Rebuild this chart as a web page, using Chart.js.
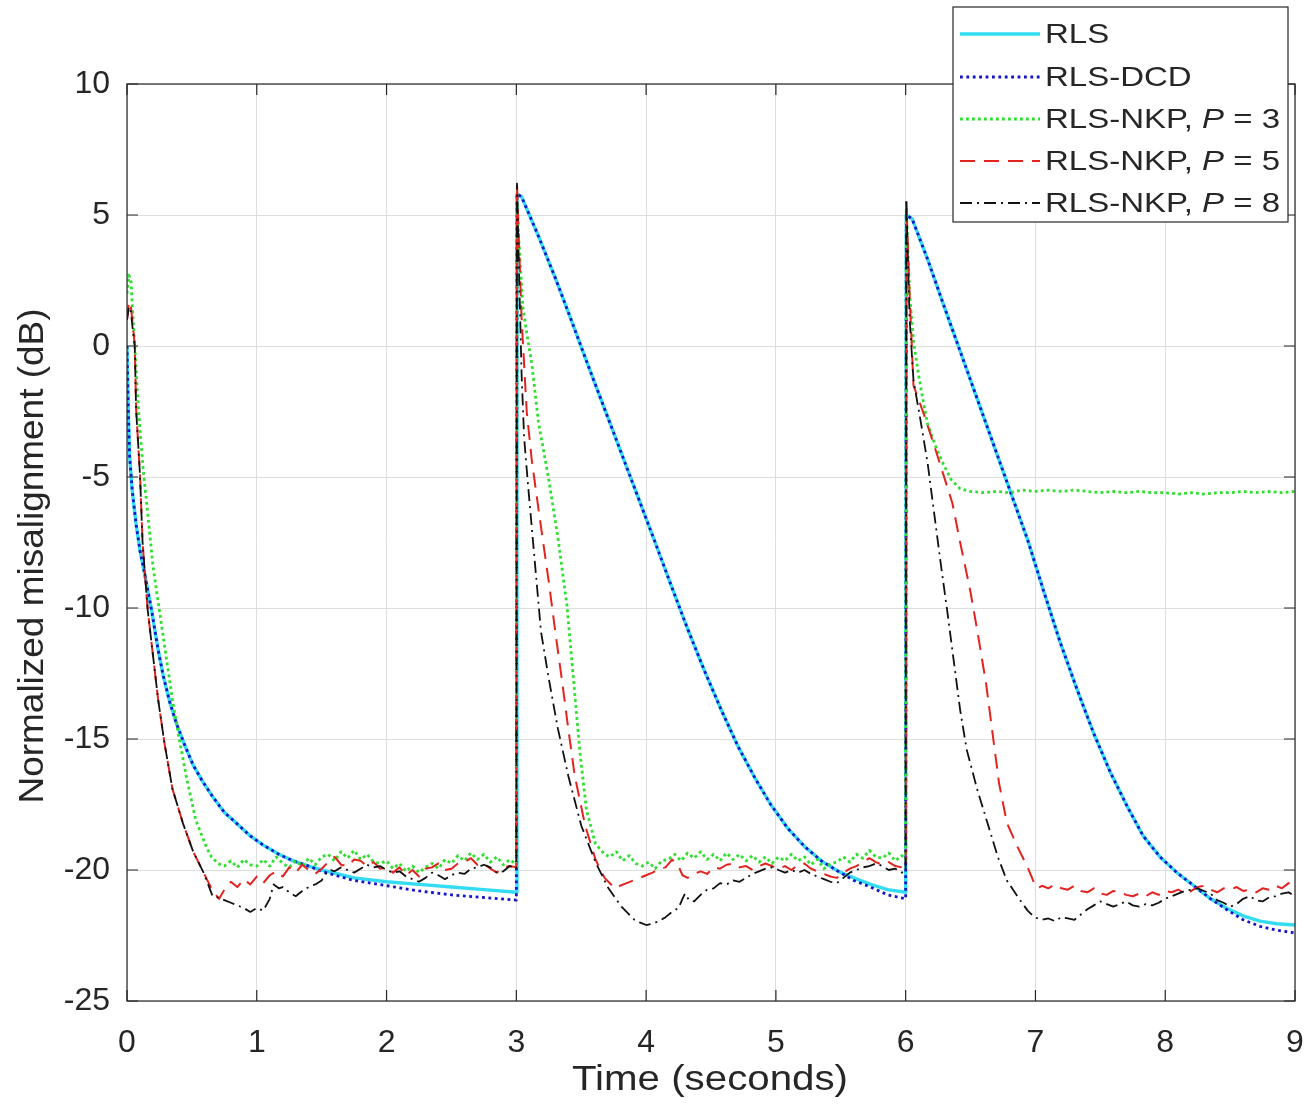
<!DOCTYPE html>
<html><head><meta charset="utf-8">
<script src="https://cdn.jsdelivr.net/npm/chart.js@4.4.1/dist/chart.umd.min.js"></script>
<style>html,body{margin:0;padding:0;background:#fff;}canvas{display:block;}</style>
</head><body>
<canvas id="c" width="1312" height="1116"></canvas>
<script>
// ---------- data ----------
const xTickValues = [0,1,2,3,4,5,6,7,8,9];
const yTickValues = [-25,-20,-15,-10,-5,0,5,10];
const xTitle = 'Time (seconds)';
const yTitle = 'Normalized misalignment (dB)';
const seriesNames = ['RLS','RLS-DCD','RLS-NKP','RLS-NKP','RLS-NKP'];
const seriesP = [null,null,3,5,8];

const rlsT = [0,0.01,0.02,0.04,0.07,0.1,0.14,0.19,0.24,0.28,0.33,0.38,0.45,0.51,0.58,0.66,0.75,0.84,0.95,1.05,1.17,1.28,1.4,1.5,1.75,2,2.25,2.5,2.75,3,
3.005,3.04,3.17,3.3,3.43,3.55,3.68,3.81,3.94,4.07,4.19,4.32,4.45,4.58,4.71,4.84,4.96,5.09,5.22,5.35,5.48,5.6,5.73,5.86,6,
6.005,6.05,6.17,6.29,6.42,6.55,6.68,6.81,6.94,7.06,7.19,7.32,7.45,7.58,7.71,7.83,7.96,8.09,8.22,8.35,8.47,8.6,8.73,8.86,9];
const rlsV = [0,-2.5,-4.2,-5.5,-6.8,-7.8,-8.8,-10.1,-11.6,-12.6,-13.6,-14.4,-15.3,-16,-16.6,-17.2,-17.8,-18.2,-18.7,-19.05,-19.4,-19.65,-19.85,-20,-20.3,-20.45,-20.55,-20.65,-20.75,-20.85,
5.8,5.7,4.2,2.6,0.9,-0.7,-2.4,-4.1,-5.8,-7.5,-9.1,-10.8,-12.4,-13.9,-15.3,-16.5,-17.5,-18.4,-19.1,-19.65,-20.05,-20.3,-20.55,-20.75,-20.85,
5,4.85,3.3,1.6,-0.2,-2,-3.8,-5.6,-7.4,-9.3,-11.3,-13.1,-14.8,-16.3,-17.6,-18.7,-19.5,-20.1,-20.6,-21.1,-21.45,-21.75,-21.95,-22.05,-22.1];
const dcdT = rlsT;
const dcdV = [0,-2.5,-4.2,-5.5,-6.8,-7.8,-8.8,-10.1,-11.6,-12.6,-13.6,-14.4,-15.3,-16,-16.6,-17.2,-17.8,-18.2,-18.7,-19.05,-19.4,-19.65,-19.85,-20.05,-20.4,-20.6,-20.8,-20.95,-21.05,-21.15,
5.8,5.7,4.2,2.6,0.9,-0.7,-2.4,-4.1,-5.8,-7.5,-9.1,-10.8,-12.4,-13.9,-15.3,-16.5,-17.5,-18.4,-19.1,-19.65,-20.05,-20.4,-20.65,-20.95,-21.1,
5,4.85,3.3,1.6,-0.2,-2,-3.8,-5.6,-7.4,-9.3,-11.3,-13.1,-14.8,-16.3,-17.6,-18.7,-19.5,-20.1,-20.6,-21.1,-21.5,-21.9,-22.15,-22.3,-22.4];

// [time, dB] pairs
const nkp3 = [[0,2.0],[0.015,2.7],[0.03,2.5],[0.045,1.2],[0.06,0],[0.08,-1.8],[0.1,-3.2],[0.13,-5.0],[0.16,-6.4],[0.2,-8.4],[0.25,-10.1],[0.3,-11.8],[0.35,-13.5],[0.41,-15.2],[0.46,-16.5],[0.53,-18.1],[0.61,-19.1],[0.65,-19.5],
[0.7,-19.75],[0.75,-19.85],[0.8,-19.65],[0.85,-19.9],[0.9,-19.6],[0.95,-19.8],[1.0,-19.85],[1.05,-19.6],[1.1,-19.85],[1.15,-19.5],[1.2,-19.75],[1.25,-19.9],[1.3,-19.65],[1.35,-19.85],[1.4,-19.55],[1.45,-19.8],[1.5,-19.5],[1.55,-19.4],[1.6,-19.65],[1.65,-19.3],[1.7,-19.55],[1.75,-19.25],[1.8,-19.6],[1.85,-19.4],[1.9,-19.7],[1.95,-19.75],[2.0,-19.65],[2.05,-19.95],[2.1,-19.75],[2.15,-20.05],[2.2,-19.85],[2.25,-20.1],[2.3,-19.9],[2.35,-19.75],[2.4,-19.95],[2.45,-19.6],[2.5,-19.75],[2.55,-19.45],[2.6,-19.65],[2.65,-19.35],[2.7,-19.6],[2.75,-19.4],[2.8,-19.7],[2.85,-19.5],[2.9,-19.8],[2.95,-19.6],[3.0,-19.8],
[3.005,5.5],[3.02,4.0],[3.05,1.5],[3.08,0.5],[3.12,-0.7],[3.17,-2.9],[3.25,-5.1],[3.32,-7.3],[3.39,-9.9],[3.44,-12.7],[3.49,-15.5],[3.54,-17.7],[3.61,-19.0],[3.68,-19.4],
[3.72,-19.5],[3.77,-19.3],[3.82,-19.65],[3.87,-19.45],[3.92,-19.75],[3.97,-19.85],[4.02,-19.7],[4.07,-19.95],[4.12,-19.65],[4.17,-19.6],[4.22,-19.4],[4.27,-19.65],[4.32,-19.35],[4.37,-19.55],[4.42,-19.3],[4.47,-19.6],[4.52,-19.4],[4.57,-19.65],[4.62,-19.35],[4.67,-19.6],[4.72,-19.4],[4.77,-19.65],[4.82,-19.45],[4.87,-19.7],[4.92,-19.5],[4.97,-19.75],[5.02,-19.5],[5.07,-19.65],[5.12,-19.4],[5.17,-19.65],[5.22,-19.5],[5.27,-19.8],[5.32,-19.6],[5.37,-19.95],[5.42,-19.75],[5.47,-19.7],[5.52,-19.5],[5.57,-19.7],[5.62,-19.4],[5.67,-19.55],[5.72,-19.25],[5.77,-19.5],[5.82,-19.55],[5.87,-19.35],[5.92,-19.65],[5.97,-19.45],[6.0,-19.6],
[6.005,5.3],[6.03,2.0],[6.06,0.2],[6.09,-0.8],[6.12,-1.7],[6.17,-3.0],[6.24,-3.95],[6.29,-4.5],[6.35,-5.1],[6.42,-5.45],[6.5,-5.55],
[6.6,-5.6],[6.7,-5.55],[6.8,-5.6],[6.9,-5.5],[7.0,-5.55],[7.1,-5.5],[7.2,-5.55],[7.3,-5.5],[7.4,-5.55],[7.5,-5.6],[7.6,-5.55],[7.7,-5.6],[7.8,-5.55],[7.9,-5.6],[8.0,-5.6],[8.1,-5.65],[8.2,-5.6],[8.3,-5.65],[8.4,-5.6],[8.5,-5.6],[8.6,-5.55],[8.7,-5.6],[8.8,-5.55],[8.9,-5.6],[9.0,-5.55]];

const nkp5 = [[0,1.0],[0.015,1.7],[0.03,1.5],[0.045,0.8],[0.06,0],[0.07,-2.4],[0.1,-4.9],[0.12,-7.5],[0.16,-10.1],[0.2,-11.8],[0.24,-13.5],[0.29,-15.2],[0.35,-16.9],[0.43,-18.2],[0.51,-19.3],[0.59,-20.1],[0.66,-20.8],[0.71,-21.1],
[0.75,-20.75],[0.8,-20.45],[0.85,-20.65],[0.9,-20.35],[0.95,-20.55],[1.0,-20.25],[1.05,-20.5],[1.1,-20.2],[1.15,-20.05],[1.2,-20.25],[1.25,-19.9],[1.3,-20.1],[1.35,-19.8],[1.4,-20.0],[1.45,-20.15],[1.5,-19.95],[1.55,-19.7],[1.6,-19.5],[1.65,-19.8],[1.7,-19.85],[1.75,-19.6],[1.8,-19.65],[1.85,-19.85],[1.9,-19.7],[1.95,-19.95],[2.0,-19.9],[2.05,-20.1],[2.1,-19.9],[2.15,-20.2],[2.2,-20.0],[2.25,-20.25],[2.3,-19.95],[2.35,-19.9],[2.4,-19.75],[2.45,-20.0],[2.5,-19.95],[2.55,-19.75],[2.6,-19.7],[2.65,-19.55],[2.7,-19.8],[2.75,-19.75],[2.8,-19.95],[2.85,-20.1],[2.9,-19.9],[2.95,-19.85],[3.0,-19.9],
[3.005,6.2],[3.02,4.0],[3.04,1.1],[3.08,-2.5],[3.12,-4.4],[3.17,-6.2],[3.25,-9.0],[3.3,-10.9],[3.35,-12.7],[3.4,-14.6],[3.45,-16.4],[3.53,-18.3],[3.61,-19.6],[3.68,-20.3],[3.76,-20.7],
[3.8,-20.6],[3.85,-20.5],[3.9,-20.4],[3.95,-20.3],[4.0,-20.2],[4.05,-20.1],[4.1,-19.95],[4.15,-19.9],[4.2,-19.6],[4.25,-19.85],[4.28,-20.2],[4.32,-20.3],[4.37,-20.15],[4.42,-20.05],[4.47,-20.15],[4.52,-19.9],[4.57,-19.95],[4.62,-19.8],[4.67,-19.75],[4.72,-19.9],[4.77,-19.85],[4.82,-20.0],[4.87,-19.85],[4.92,-19.75],[4.97,-19.85],[5.02,-19.95],[5.07,-19.85],[5.12,-20.0],[5.17,-19.8],[5.22,-19.75],[5.27,-19.95],[5.32,-20.05],[5.37,-20.15],[5.42,-20.25],[5.47,-20.3],[5.52,-20.1],[5.57,-19.95],[5.62,-19.85],[5.67,-19.7],[5.72,-19.55],[5.77,-19.7],[5.82,-19.8],[5.87,-19.7],[5.92,-19.85],[5.97,-19.9],[6.0,-19.95],
[6.005,5.5],[6.03,2.0],[6.06,-1.5],[6.14,-2.6],[6.22,-3.8],[6.29,-4.9],[6.36,-6.0],[6.42,-7.5],[6.5,-9.4],[6.56,-11.1],[6.62,-12.9],[6.67,-14.8],[6.72,-16.7],[6.78,-18.2],[6.86,-19.1],[6.94,-19.9],[6.99,-20.5],[7.02,-20.7],
[7.05,-20.6],[7.1,-20.7],[7.15,-20.55],[7.2,-20.7],[7.25,-20.75],[7.3,-20.6],[7.35,-20.8],[7.4,-20.85],[7.45,-20.7],[7.5,-20.9],[7.55,-20.95],[7.6,-20.8],[7.65,-20.85],[7.7,-20.95],[7.75,-21.0],[7.8,-20.9],[7.85,-21.0],[7.9,-20.85],[7.95,-20.95],[8.0,-20.8],[8.05,-20.85],[8.1,-20.75],[8.15,-20.9],[8.2,-20.8],[8.25,-20.65],[8.3,-20.6],[8.35,-20.75],[8.4,-20.85],[8.45,-20.7],[8.5,-20.75],[8.55,-20.65],[8.6,-20.8],[8.65,-20.75],[8.7,-20.85],[8.75,-20.7],[8.8,-20.75],[8.85,-20.6],[8.9,-20.7],[8.95,-20.5],[9.0,-20.6]];

const nkp8 = [[0,1.0],[0.015,1.5],[0.03,1.3],[0.045,0.6],[0.06,0],[0.07,-2.4],[0.1,-4.9],[0.12,-7.5],[0.16,-10.1],[0.2,-11.8],[0.24,-13.5],[0.29,-15.2],[0.35,-16.9],[0.43,-18.2],[0.51,-19.3],[0.59,-20.1],[0.66,-21.0],
[0.7,-21.05],[0.75,-21.15],[0.8,-21.25],[0.85,-21.35],[0.9,-21.45],[0.95,-21.6],[1.0,-21.45],[1.05,-21.55],[1.1,-21.1],[1.13,-20.55],[1.17,-20.7],[1.2,-20.65],[1.25,-20.85],[1.3,-21.0],[1.35,-20.8],[1.4,-20.65],[1.45,-20.55],[1.5,-20.4],[1.53,-20.15],[1.57,-20.0],[1.6,-20.05],[1.65,-19.9],[1.7,-20.0],[1.75,-20.1],[1.8,-19.95],[1.85,-19.8],[1.9,-19.9],[1.95,-19.85],[2.0,-20.0],[2.05,-20.1],[2.1,-20.05],[2.15,-20.25],[2.2,-20.35],[2.25,-20.45],[2.3,-20.3],[2.35,-20.1],[2.4,-20.2],[2.45,-20.35],[2.5,-20.2],[2.55,-20.1],[2.6,-20.15],[2.65,-19.95],[2.7,-19.9],[2.75,-19.8],[2.8,-19.9],[2.85,-20.1],[2.9,-20.05],[2.95,-19.85],[3.0,-19.95],
[3.005,6.2],[3.02,3.0],[3.04,-1.0],[3.06,-3.5],[3.09,-5.3],[3.14,-8.1],[3.19,-10.9],[3.25,-12.7],[3.32,-14.6],[3.4,-16.4],[3.5,-18.3],[3.61,-19.7],[3.71,-20.7],[3.81,-21.4],[3.91,-21.9],
[3.95,-22.0],[4.0,-22.1],[4.05,-22.05],[4.1,-21.95],[4.15,-21.8],[4.2,-21.6],[4.25,-21.45],[4.28,-21.1],[4.3,-20.9],[4.33,-21.15],[4.37,-21.2],[4.42,-20.95],[4.47,-20.75],[4.52,-20.7],[4.57,-20.5],[4.62,-20.55],[4.67,-20.4],[4.72,-20.45],[4.77,-20.3],[4.82,-20.15],[4.87,-20.05],[4.92,-19.95],[4.97,-19.9],[5.02,-20.0],[5.07,-20.1],[5.12,-20.0],[5.17,-20.1],[5.22,-20.0],[5.27,-20.15],[5.32,-20.25],[5.37,-20.35],[5.42,-20.45],[5.47,-20.5],[5.52,-20.3],[5.57,-20.1],[5.62,-20.0],[5.67,-19.9],[5.72,-19.85],[5.77,-19.75],[5.82,-19.85],[5.87,-20.0],[5.92,-19.95],[5.97,-20.1],[6.0,-20.05],
[6.005,5.6],[6.03,1.1],[6.06,-1.3],[6.12,-3.0],[6.17,-4.5],[6.22,-6.4],[6.27,-8.3],[6.32,-10.1],[6.37,-12.0],[6.42,-13.9],[6.47,-15.4],[6.55,-16.9],[6.63,-18.2],[6.71,-19.5],[6.78,-20.4],[6.86,-21.0],[6.94,-21.55],[6.99,-21.8],
[7.05,-21.9],[7.1,-21.85],[7.15,-21.95],[7.2,-21.8],[7.25,-21.85],[7.3,-21.9],[7.35,-21.7],[7.4,-21.5],[7.45,-21.35],[7.5,-21.2],[7.55,-21.3],[7.6,-21.4],[7.65,-21.3],[7.7,-21.2],[7.75,-21.35],[7.8,-21.4],[7.85,-21.3],[7.9,-21.35],[7.95,-21.25],[8.0,-21.1],[8.05,-21.0],[8.1,-20.9],[8.15,-20.8],[8.2,-20.75],[8.25,-20.7],[8.3,-20.8],[8.35,-20.9],[8.4,-21.15],[8.45,-21.25],[8.5,-21.4],[8.55,-21.3],[8.6,-21.1],[8.65,-21.0],[8.7,-21.15],[8.75,-21.2],[8.8,-21.05],[8.85,-21.0],[8.9,-20.9],[8.95,-20.85],[9.0,-21.0]];

// ---------- chart ----------
const FONT = '"Liberation Sans", Arial, Helvetica, sans-serif';
const TXT = '#262626';
const xyFrom = (t, v) => t.map((x, i) => ({x, y: v[i]}));
const xyPairs = p => p.map(([x, y]) => ({x, y}));

const datasets = [
  {label: 'RLS', data: xyFrom(rlsT, rlsV), borderColor: '#33dcf2', borderWidth: 3.4, borderDash: [], order: 5},
  {label: 'RLS-DCD', data: xyFrom(dcdT, dcdV), borderColor: '#1414c8', borderWidth: 2.8, borderDash: [2.8, 3.6], order: 4},
  {label: 'RLS-NKP3', data: xyPairs(nkp3), borderColor: '#2ee02e', borderWidth: 2.8, borderDash: [2.8, 3.2], order: 3},
  {label: 'RLS-NKP5', data: xyPairs(nkp5), borderColor: '#e3231f', borderWidth: 2, borderDash: [15, 9], order: 2},
  {label: 'RLS-NKP8', data: xyPairs(nkp8), borderColor: '#111111', borderWidth: 1.8, borderDash: [12, 5, 2, 5], order: 1}
];
datasets.forEach(d => { d.pointRadius = 0; d.tension = 0; d.fill = false; d.borderCapStyle = 'butt'; d.borderJoinStyle = 'round'; });

const matlabPlugin = {
  id: 'matlab',
  afterDatasetsDraw(chart) {
    const {ctx, chartArea: a, scales: {x, y}} = chart;
    ctx.save();
    ctx.strokeStyle = TXT; ctx.lineWidth = 1.2; ctx.setLineDash([]);
    ctx.strokeRect(a.left, a.top, a.right - a.left, a.bottom - a.top);
    ctx.beginPath();
    const tl = 11;
    xTickValues.forEach(v => { const px = x.getPixelForValue(v);
      ctx.moveTo(px, a.bottom); ctx.lineTo(px, a.bottom - tl);
      ctx.moveTo(px, a.top); ctx.lineTo(px, a.top + tl); });
    yTickValues.forEach(v => { const py = y.getPixelForValue(v);
      ctx.moveTo(a.left, py); ctx.lineTo(a.left + tl, py);
      ctx.moveTo(a.right, py); ctx.lineTo(a.right - tl, py); });
    ctx.stroke();
    ctx.restore();
  },
  afterDraw(chart) {
    const {ctx} = chart;
    ctx.save();
    ctx.fillStyle = TXT;
    ctx.textBaseline = 'middle';
    ctx.textAlign = 'center';
    // x title
    ctx.font = '35px ' + FONT;
    let w = ctx.measureText(xTitle).width;
    ctx.save(); ctx.translate(710, 1080); ctx.scale(276 / w, 1); ctx.fillText(xTitle, 0, 0); ctx.restore();
    // y title
    w = ctx.measureText(yTitle).width;
    ctx.save(); ctx.translate(33, 556); ctx.rotate(-Math.PI / 2); ctx.scale(495 / w, 1); ctx.fillText(yTitle, 0, 0); ctx.restore();

    // legend
    const L = {x0: 953, y0: 7, x1: 1288, y1: 222};
    ctx.fillStyle = '#ffffff';
    ctx.fillRect(L.x0, L.y0, L.x1 - L.x0, L.y1 - L.y0);
    ctx.strokeStyle = TXT; ctx.lineWidth = 1.2; ctx.setLineDash([]);
    ctx.strokeRect(L.x0, L.y0, L.x1 - L.x0, L.y1 - L.y0);
    const rows = [34, 77, 119, 161, 203];
    const fs = 28;
    const normal = fs + 'px ' + FONT, italic = 'italic ' + fs + 'px ' + FONT;
    const pieceSets = seriesNames.map((n, i) => seriesP[i] === null ? [{t: n, f: normal}] :
      [{t: n + ', ', f: normal}, {t: 'P', f: italic}, {t: ' = ' + seriesP[i], f: normal}]);
    const widthOf = ps => ps.reduce((s, p) => { ctx.font = p.f; return s + ctx.measureText(p.t).width; }, 0);
    const maxW = Math.max(...pieceSets.map(widthOf));
    const sx = 235 / maxW;
    datasets.forEach((d, i) => {
      const yy = rows[i];
      ctx.save();
      ctx.strokeStyle = d.borderColor; ctx.lineWidth = d.borderWidth; ctx.setLineDash(d.borderDash); ctx.lineCap = 'butt';
      ctx.beginPath(); ctx.moveTo(960, yy); ctx.lineTo(1040, yy); ctx.stroke();
      ctx.restore();
      ctx.save();
      ctx.translate(1045, yy + 1); ctx.scale(sx, 1);
      ctx.fillStyle = TXT; ctx.textAlign = 'left'; ctx.textBaseline = 'middle';
      let cx = 0;
      pieceSets[i].forEach(p => { ctx.font = p.f; ctx.fillText(p.t, cx, 0); cx += ctx.measureText(p.t).width; });
      ctx.restore();
    });
    ctx.restore();
  }
};

new Chart(document.getElementById('c'), {
  type: 'line',
  data: {datasets},
  options: {
    responsive: false,
    animation: false,
    devicePixelRatio: 1,
    layout: {padding: {left: 0, top: 84, right: 17, bottom: 0}},
    plugins: {legend: {display: false}, tooltip: {enabled: false}, title: {display: false}},
    scales: {
      x: {
        type: 'linear', min: 0, max: 9,
        afterBuildTicks: s => { s.ticks = xTickValues.map(v => ({value: v})); },
        afterFit: s => { s.height = 115; s.paddingLeft = 0; s.paddingRight = 0; },
        ticks: {color: TXT, font: {family: FONT, size: 32}, padding: 23, maxRotation: 0, autoSkip: false},
        grid: {color: '#dedede', lineWidth: 1, drawTicks: false},
        border: {display: false}
      },
      y: {
        type: 'linear', min: -25, max: 10,
        afterBuildTicks: s => { s.ticks = yTickValues.map(v => ({value: v})); },
        afterFit: s => { s.width = 127; s.paddingTop = 0; s.paddingBottom = 0; },
        ticks: {color: TXT, font: {family: FONT, size: 32}, padding: 17, autoSkip: false},
        grid: {color: '#dedede', lineWidth: 1, drawTicks: false},
        border: {display: false}
      }
    }
  },
  plugins: [matlabPlugin]
});
</script>
</body></html>
